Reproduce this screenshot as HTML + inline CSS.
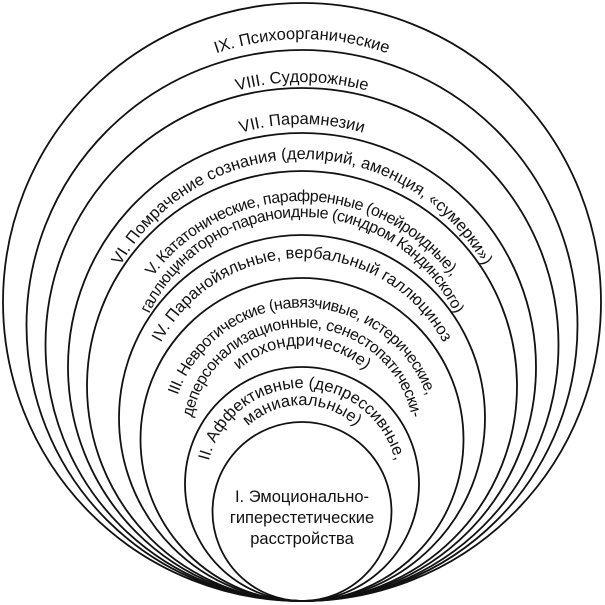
<!DOCTYPE html>
<html><head><meta charset="utf-8"><style>
html,body{margin:0;padding:0;background:#fff;}
svg{display:block;}
text{font-family:"Liberation Sans",sans-serif;font-size:16.5px;fill:#111;letter-spacing:0px;}
.t{font-size:16px;letter-spacing:-0.5px;}
</style></head><body>
<svg width="605" height="605" viewBox="0 0 605 605" xmlns="http://www.w3.org/2000/svg">
<defs>
<path id="p9" d="M302,565 A263,263 0 1 1 302,39 A263,263 0 1 1 302,565"/>
<path id="p8" d="M302,576 A247,247 0 1 1 302,82 A247,247 0 1 1 302,576"/>
<path id="p7" d="M302,556 A212,212 0 1 1 302,124 A212,212 0 1 1 302,556"/>
<path id="p6" d="M302,575 A208,208 0 1 1 302,159 A208,208 0 1 1 302,575"/>
<path id="p5a" d="M302,571 A185,185 0 1 1 302,201 A185,185 0 1 1 302,571"/>
<path id="p5b" d="M302,555 A169,169 0 1 1 302,217 A169,169 0 1 1 302,555"/>
<path id="p4" d="M302,578 A160,160 0 1 1 302,258 A160,160 0 1 1 302,578"/>
<path id="p3a" d="M302,571.5 A132,132 0 1 1 302,307.5 A132,132 0 1 1 302,571.5"/>
<path id="p3b" d="M302,551.5 A112,112 0 1 1 302,327.5 A112,112 0 1 1 302,551.5"/>
<path id="p3c" d="M302,533.5 A94,94 0 1 1 302,345.5 A94,94 0 1 1 302,533.5"/>
<path id="p2a" d="M302,580 A96,96 0 1 1 302,388 A96,96 0 1 1 302,580"/>
<path id="p2b" d="M302,563 A79,79 0 1 1 302,405 A79,79 0 1 1 302,563"/>
</defs>
<g fill="none" stroke="#111" stroke-width="1.8">
<circle cx="302" cy="302" r="299"/>
<circle cx="302" cy="325.5" r="275.5"/>
<circle cx="302" cy="344.5" r="256.5"/>
<circle cx="302" cy="367" r="234"/>
<circle cx="302" cy="386" r="215"/>
<circle cx="302" cy="418" r="183"/>
<circle cx="302" cy="439.5" r="161.5"/>
<circle cx="302" cy="484" r="117"/>
<circle cx="302" cy="511.5" r="89.5"/>
</g>
<text text-anchor="middle"><textPath href="#p9" startOffset="50%">IX. Психоорганические</textPath></text>
<text text-anchor="middle"><textPath href="#p8" startOffset="50%">VIII. Судорожные</textPath></text>
<text text-anchor="middle"><textPath href="#p7" startOffset="50%">VII. Парамнезии</textPath></text>
<text text-anchor="middle"><textPath href="#p6" startOffset="50%">VI. Помрачение сознания (делирий, аменция, «сумерки»)</textPath></text>
<text class="t" text-anchor="middle"><textPath href="#p5a" startOffset="50%">V. Кататонические, парафренные (онейроидные),</textPath></text>
<text class="t" text-anchor="middle"><textPath href="#p5b" startOffset="50%">галлюцинаторно-параноидные (синдром Кандинского)</textPath></text>
<text text-anchor="middle"><textPath href="#p4" startOffset="50%">IV. Паранойяльные, вербальный галлюциноз</textPath></text>
<text class="t" text-anchor="middle"><textPath href="#p3a" startOffset="50%">III. Невротические (навязчивые, истерические,</textPath></text>
<text class="t" text-anchor="middle"><textPath href="#p3b" startOffset="50%">деперсонализационные, сенестопатически-</textPath></text>
<text text-anchor="middle"><textPath href="#p3c" startOffset="50%">ипохондрические)</textPath></text>
<text text-anchor="middle"><textPath href="#p2a" startOffset="50%">II. Аффективные (депрессивные,</textPath></text>
<text text-anchor="middle"><textPath href="#p2b" startOffset="50%">маниакальные)</textPath></text>
<text x="302" y="502" text-anchor="middle">I. Эмоционально-</text>
<text x="302" y="523" text-anchor="middle">гиперестетические</text>
<text x="302" y="544" text-anchor="middle">расстройства</text>
</svg>
</body></html>
